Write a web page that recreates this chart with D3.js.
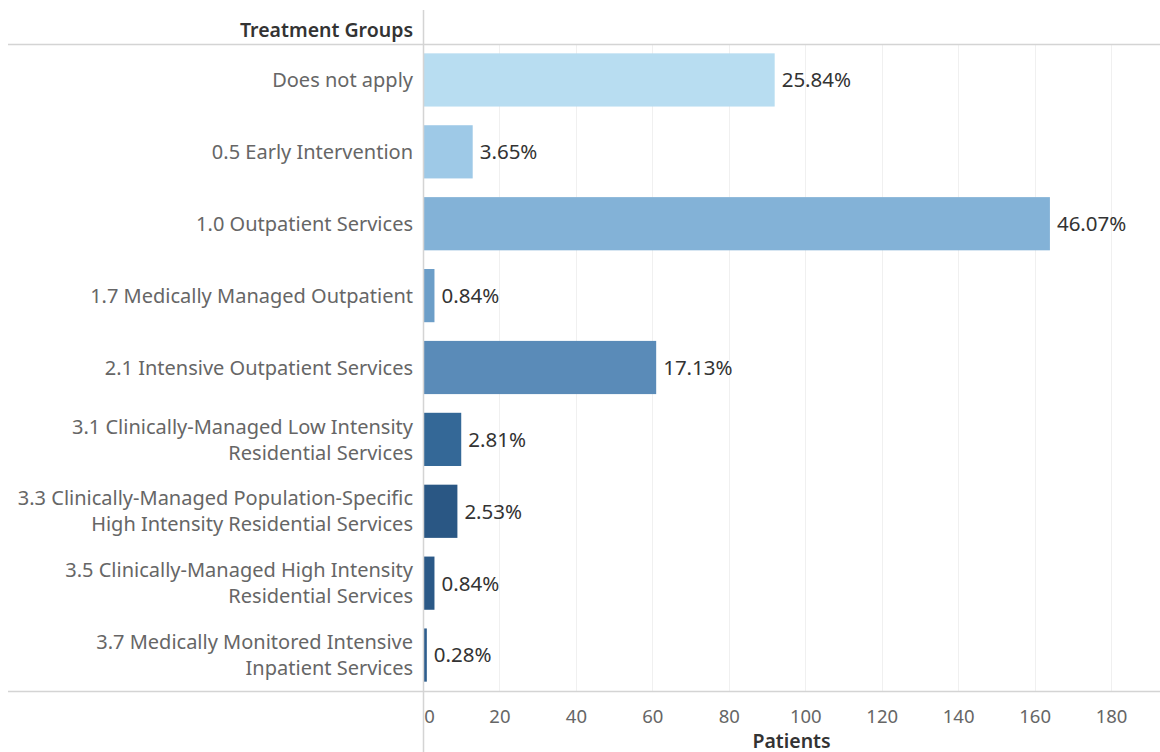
<!DOCTYPE html>
<html>
<head>
<meta charset="utf-8">
<script src="https://cdn.jsdelivr.net/npm/d3@7"></script>
<style>
  html, body { margin: 0; padding: 0; background: #fff; }
  svg { display: block; }
</style>
</head>
<body>
<svg id="chart" width="1160" height="752"></svg>
<script>
// Treatment groups (label lines), patient counts and share labels
const categories = [
  ["Does not apply"],
  ["0.5 Early Intervention"],
  ["1.0 Outpatient Services"],
  ["1.7 Medically Managed Outpatient"],
  ["2.1 Intensive Outpatient Services"],
  ["3.1 Clinically-Managed Low Intensity", "Residential Services"],
  ["3.3 Clinically-Managed Population-Specific", "High Intensity Residential Services"],
  ["3.5 Clinically-Managed High Intensity", "Residential Services"],
  ["3.7 Medically Monitored Intensive", "Inpatient Services"]
];
const patients = [92, 13, 164, 3, 61, 10, 9, 3, 1];
const shareLabels = ["25.84%", "3.65%", "46.07%", "0.84%", "17.13%", "2.81%", "2.53%", "0.84%", "0.28%"];
const barColors = ["#b8ddf1", "#9ec9e7", "#83b2d7", "#6c9ec8", "#5a8bb8", "#346897", "#2a5784", "#2b5987", "#2d5d8d"];
const xTicks = [0, 20, 40, 60, 80, 100, 120, 140, 160, 180];

const svg = d3.select("#chart");
const W = 1160, H = 752;
const paneLeft = 423, paneTop = 44, paneBottom = 691;
const font = "'Noto Sans', 'Open Sans', sans-serif";
const titleFs = 19.5;
const rowFs = 20;
const tickFs = 18.5;
const valueFs = 20.5;

const rows = d3.range(categories.length);

const x = d3.scaleLinear().domain([0, 192.8]).range([paneLeft, W]);
const y = d3.scaleBand().domain(rows).range([paneTop, paneBottom]).paddingInner(0.26).paddingOuter(0.13);

// vertical gridlines
svg.append("g")
  .selectAll("line")
  .data(xTicks.slice(1))
  .join("line")
  .attr("x1", d => Math.round(x(d)) + 0.5)
  .attr("x2", d => Math.round(x(d)) + 0.5)
  .attr("y1", paneTop)
  .attr("y2", paneBottom)
  .attr("stroke", "#f0f0f0")
  .attr("stroke-width", 1);

// bars
svg.append("g")
  .selectAll("rect")
  .data(rows)
  .join("rect")
  .attr("x", x(0) + 1)
  .attr("y", i => y(i))
  .attr("width", i => Math.max(1.5, x(patients[i]) - x(0) - 1))
  .attr("height", y.bandwidth())
  .attr("fill", i => barColors[i]);

// share labels at bar ends
svg.append("g")
  .selectAll("text")
  .data(rows)
  .join("text")
  .attr("x", i => Math.max(x(patients[i]), x(0) + 2) + 7)
  .attr("y", i => y(i) + y.bandwidth() / 2)
  .attr("dy", "0.36em")
  .attr("font-family", font)
  .attr("font-size", valueFs)
  .attr("fill", "#333")
  .text(i => shareLabels[i]);

// row header labels
const lineGap = 26;
const rowLabels = svg.append("g")
  .selectAll("text")
  .data(rows)
  .join("text")
  .attr("text-anchor", "end")
  .attr("font-family", font)
  .attr("font-size", rowFs)
  .attr("fill", "#666");
rowLabels.each(function(i) {
  const lines = categories[i];
  const cy = y(i) + y.bandwidth() / 2;
  const top = cy - (lines.length - 1) * lineGap / 2;
  d3.select(this).selectAll("tspan")
    .data(lines)
    .join("tspan")
    .attr("x", 413)
    .attr("y", (d, k) => top + k * lineGap)
    .attr("dy", "0.36em")
    .text(d => d);
});

// header title
svg.append("text")
  .attr("x", 413)
  .attr("y", 30)
  .attr("dy", "0.36em")
  .attr("text-anchor", "end")
  .attr("font-family", font)
  .attr("font-size", titleFs)
  .attr("font-weight", "600")
  .attr("fill", "#333")
  .text("Treatment Groups");

// frame lines
svg.append("line")
  .attr("x1", 8).attr("x2", W)
  .attr("y1", paneTop + 0.5).attr("y2", paneTop + 0.5)
  .attr("stroke", "#d4d4d4").attr("stroke-width", 1.5);
svg.append("line")
  .attr("x1", 8).attr("x2", W)
  .attr("y1", paneBottom + 0.5).attr("y2", paneBottom + 0.5)
  .attr("stroke", "#d4d4d4").attr("stroke-width", 1.5);
svg.append("line")
  .attr("x1", paneLeft + 0.5).attr("x2", paneLeft + 0.5)
  .attr("y1", 10).attr("y2", H)
  .attr("stroke", "#d4d4d4").attr("stroke-width", 1.5);

// x axis
const xAxis = d3.axisBottom(x).tickValues(xTicks).tickSize(0).tickPadding(0);
const gx = svg.append("g")
  .attr("transform", `translate(0,${paneBottom})`)
  .call(xAxis);
gx.select(".domain").remove();
gx.selectAll("text")
  .attr("y", 32)
  .attr("dy", "0")
  .attr("font-family", font)
  .attr("font-size", tickFs)
  .attr("fill", "#666")
  .attr("dx", d => d === 0 ? 6 : 0);

svg.append("text")
  .attr("x", (paneLeft + W) / 2)
  .attr("y", 748)
  .attr("text-anchor", "middle")
  .attr("font-family", font)
  .attr("font-size", titleFs)
  .attr("font-weight", "600")
  .attr("fill", "#333")
  .text("Patients");
</script>
</body>
</html>
